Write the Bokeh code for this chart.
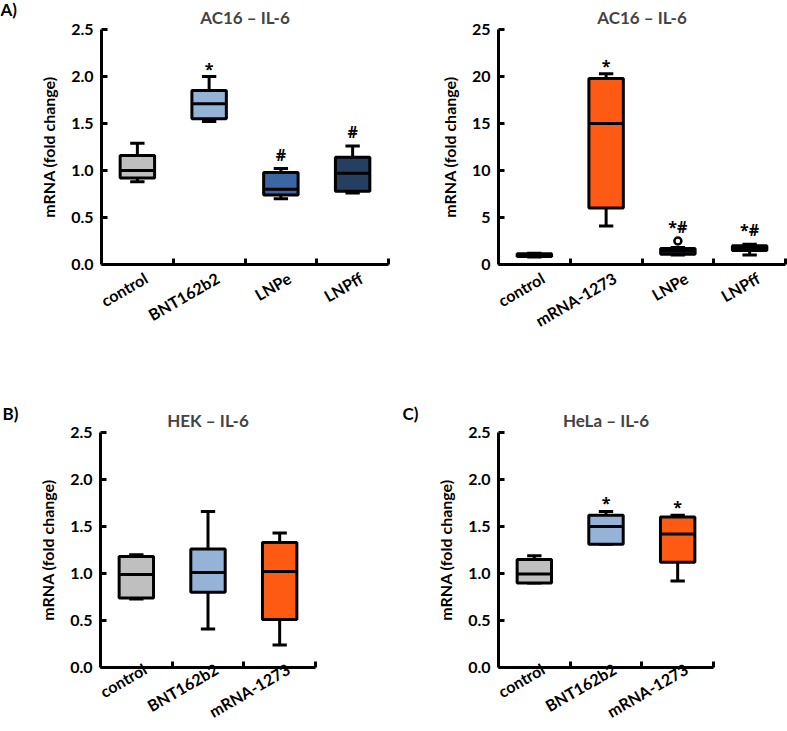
import math
from bokeh.plotting import figure
from bokeh.models import FixedTicker, Range1d, NumeralTickFormatter, ColumnDataSource
from bokeh.layouts import column, row
from bokeh.transform import dodge
from bokeh.embed import file_html
from bokeh.resources import INLINE
from bokeh.core.properties import value

FONT = "Lato"
SIG_FONT = "Open Sans"

# ---------------- data ----------------
# Panel A (left): AC16 - IL-6
a1_cats = ["control", "BNT162b2", "LNPe", "LNPff"]
a1_lo = [0.88, 1.52, 0.70, 0.76]
a1_q1 = [0.92, 1.55, 0.74, 0.78]
a1_med = [1.00, 1.71, 0.80, 0.97]
a1_q3 = [1.16, 1.85, 0.98, 1.14]
a1_hi = [1.29, 2.00, 1.02, 1.26]
a1_sig = ["", "*", "#", "#"]

# Panel A (right): AC16 - IL-6
a2_cats = ["control", "mRNA-1273", "LNPe", "LNPff"]
a2_lo = [0.80, 4.1, 1.0, 1.0]
a2_q1 = [0.85, 6.0, 1.1, 1.5]
a2_med = [1.00, 15.0, 1.4, 1.8]
a2_q3 = [1.15, 19.8, 1.7, 2.0]
a2_hi = [1.20, 20.3, 1.8, 2.15]
a2_sig = ["", "*", "*#", "*#"]
a2_out_cat = [2]
a2_out_val = [2.5]

# Panel B: HEK - IL-6
b_cats = ["control", "BNT162b2", "mRNA-1273"]
b_lo = [0.73, 0.41, 0.24]
b_q1 = [0.74, 0.80, 0.51]
b_med = [0.99, 1.01, 1.02]
b_q3 = [1.18, 1.26, 1.33]
b_hi = [1.20, 1.66, 1.43]
b_sig = ["", "", ""]

# Panel C: HeLa - IL-6
c_cats = ["control", "BNT162b2", "mRNA-1273"]
c_lo = [0.90, 1.31, 0.92]
c_q1 = [0.90, 1.31, 1.12]
c_med = [0.995, 1.50, 1.42]
c_q3 = [1.15, 1.62, 1.60]
c_hi = [1.19, 1.66, 1.62]
c_sig = ["", "*", "*"]

panel_letters = ["A)", "B)", "C)"]

COLORS = {
    "control": "#BFBFBF",
    "BNT162b2": "#95B3D7",
    "LNPe": "#3A67A1",
    "LNPff": "#253F61",
    "mRNA-1273": "#FF5A14",
}


def letter_fig(letter, width, height, x_pad, y_from_top):
    p = figure(width=width, height=height, x_range=Range1d(0, width),
               y_range=Range1d(0, height), output_backend="svg",
               toolbar_location=None, min_border=0, title=None,
               x_axis_location=None, y_axis_location=None)
    p.frame_align = False
    p.outline_line_color = None
    p.xgrid.visible = False
    p.ygrid.visible = False
    p.text(x=[x_pad], y=[height - y_from_top], text=[letter], text_font=value(FONT),
           text_font_style="bold", text_font_size="17px", text_color="black",
           text_baseline="middle", text_align="left")
    return p


def make_panel(cats, lo, q1, med, q3, hi, sig, title, ymax, ystep, fmt,
               width, height, left, right, top, bottom, lab_standoff,
               out_cat=None, out_val=None):
    n = len(cats)
    xs = [i + 0.5 for i in range(n)]
    p = figure(width=width, height=height, x_range=Range1d(0, n),
               y_range=Range1d(0, ymax), output_backend="svg",
               toolbar_location=None, min_border_left=left,
               min_border_right=right, min_border_top=top,
               min_border_bottom=bottom)
    p.outline_line_color = None
    p.xgrid.visible = False
    p.ygrid.visible = False
    p.background_fill_color = "white"
    p.border_fill_color = "white"

    src = ColumnDataSource(dict(x=xs, lo=lo, q1=q1, med=med, q3=q3, hi=hi,
                                color=[COLORS[c] for c in cats]))
    bw = 0.48
    cw = 0.10
    lw = 3
    p.segment(x0="x", y0="q3", x1="x", y1="hi", source=src, line_color="black", line_width=lw)
    p.segment(x0="x", y0="lo", x1="x", y1="q1", source=src, line_color="black", line_width=lw)
    p.segment(x0=dodge("x", -cw), y0="hi", x1=dodge("x", cw), y1="hi", source=src,
              line_color="black", line_width=lw)
    p.segment(x0=dodge("x", -cw), y0="lo", x1=dodge("x", cw), y1="lo", source=src,
              line_color="black", line_width=lw)
    p.vbar(x="x", width=bw, bottom="q1", top="q3", source=src, fill_color="color",
           line_color="black", line_width=lw)
    p.segment(x0=dodge("x", -bw / 2), y0="med", x1=dodge("x", bw / 2), y1="med",
              source=src, line_color="black", line_width=lw)

    top_vals = list(hi)
    if out_cat:
        p.scatter(x=[xs[i] for i in out_cat], y=out_val, size=7, fill_color="white",
                  line_color="black", line_width=2.5)
        for i, v in zip(out_cat, out_val):
            top_vals[i] = max(top_vals[i], v)
    offs = [3 if s == "*" else -3 for s in sig]
    src2 = ColumnDataSource(dict(x=xs, y=top_vals, sig=sig, off=offs))
    p.text(x="x", y="y", text="sig", source=src2, text_font=value(SIG_FONT),
           text_font_style="bold", text_font_size="16px", text_align="center",
           text_baseline="bottom", y_offset="off")

    p.title.text = title
    p.title.align = "center"
    p.title.text_font = FONT
    p.title.text_font_style = "bold"
    p.title.text_font_size = "17px"
    p.title.standoff = 4

    ticks = [i * ystep for i in range(int(round(ymax / ystep)) + 1)]
    p.yaxis.ticker = FixedTicker(ticks=ticks)
    p.yaxis.formatter = NumeralTickFormatter(format=fmt)
    p.yaxis.axis_label = "mRNA (fold change)"
    lab_pos = [x + 0.12 for x in xs]
    p.xaxis.ticker = FixedTicker(ticks=lab_pos, minor_ticks=list(range(1, n + 1)))
    p.xaxis.major_label_overrides = {x: c for x, c in zip(lab_pos, cats)}
    p.xaxis.major_label_orientation = math.radians(30)
    for ax in (p.xaxis, p.yaxis):
        ax.axis_line_width = 3
        ax.axis_line_color = "black"
        ax.major_tick_line_width = 3
        ax.minor_tick_line_width = 3
        ax.major_label_text_font = FONT
        ax.major_label_text_font_style = "bold"
        ax.major_label_text_color = "black"
        ax.axis_label_text_font = FONT
        ax.axis_label_text_font_style = "bold"
        ax.axis_label_text_font_size = "16px"
        ax.axis_label_text_color = "black"
    p.yaxis.major_label_text_font_size = "16px"
    p.xaxis.major_label_text_font_size = "16px"
    p.yaxis.major_tick_in = 6
    p.yaxis.major_tick_out = 0
    p.yaxis.minor_tick_in = 0
    p.yaxis.minor_tick_out = 0
    p.yaxis.major_label_standoff = 8
    p.yaxis.axis_label_standoff = 10
    p.xaxis.major_tick_in = 0
    p.xaxis.major_tick_out = 0
    p.xaxis.minor_tick_in = 6
    p.xaxis.minor_tick_out = 0
    p.xaxis.major_label_standoff = lab_standoff
    return p


la = letter_fig(panel_letters[0], 20, 370, 0, 9)
f1 = make_panel(a1_cats, a1_lo, a1_q1, a1_med, a1_q3, a1_hi, a1_sig, "AC16 – IL-6",
                2.5, 0.5, "0.0", 373, 370, 81, 5, 29, 106, 12)
f2 = make_panel(a2_cats, a2_lo, a2_q1, a2_med, a2_q3, a2_hi, a2_sig, "AC16 – IL-6",
                25, 5, "0", 394, 370, 105, 2, 29, 105, 12,
                out_cat=a2_out_cat, out_val=a2_out_val)
lb = letter_fig(panel_letters[1], 20, 361, 2, 43)
f3 = make_panel(b_cats, b_lo, b_q1, b_med, b_q3, b_hi, b_sig, "HEK – IL-6",
                2.5, 0.5, "0.0", 373, 361, 80, 78, 62, 63, 0)
lc = letter_fig(panel_letters[2], 26, 361, 9, 43)
f4 = make_panel(c_cats, c_lo, c_q1, c_med, c_q3, c_hi, c_sig, "HeLa – IL-6",
                2.5, 0.5, "0.0", 368, 361, 79, 74, 62, 63, 0)

layout = column(row(la, f1, f2), row(lb, f3, lc, f4))
open("out.html", "w").write(file_html(layout, INLINE))
